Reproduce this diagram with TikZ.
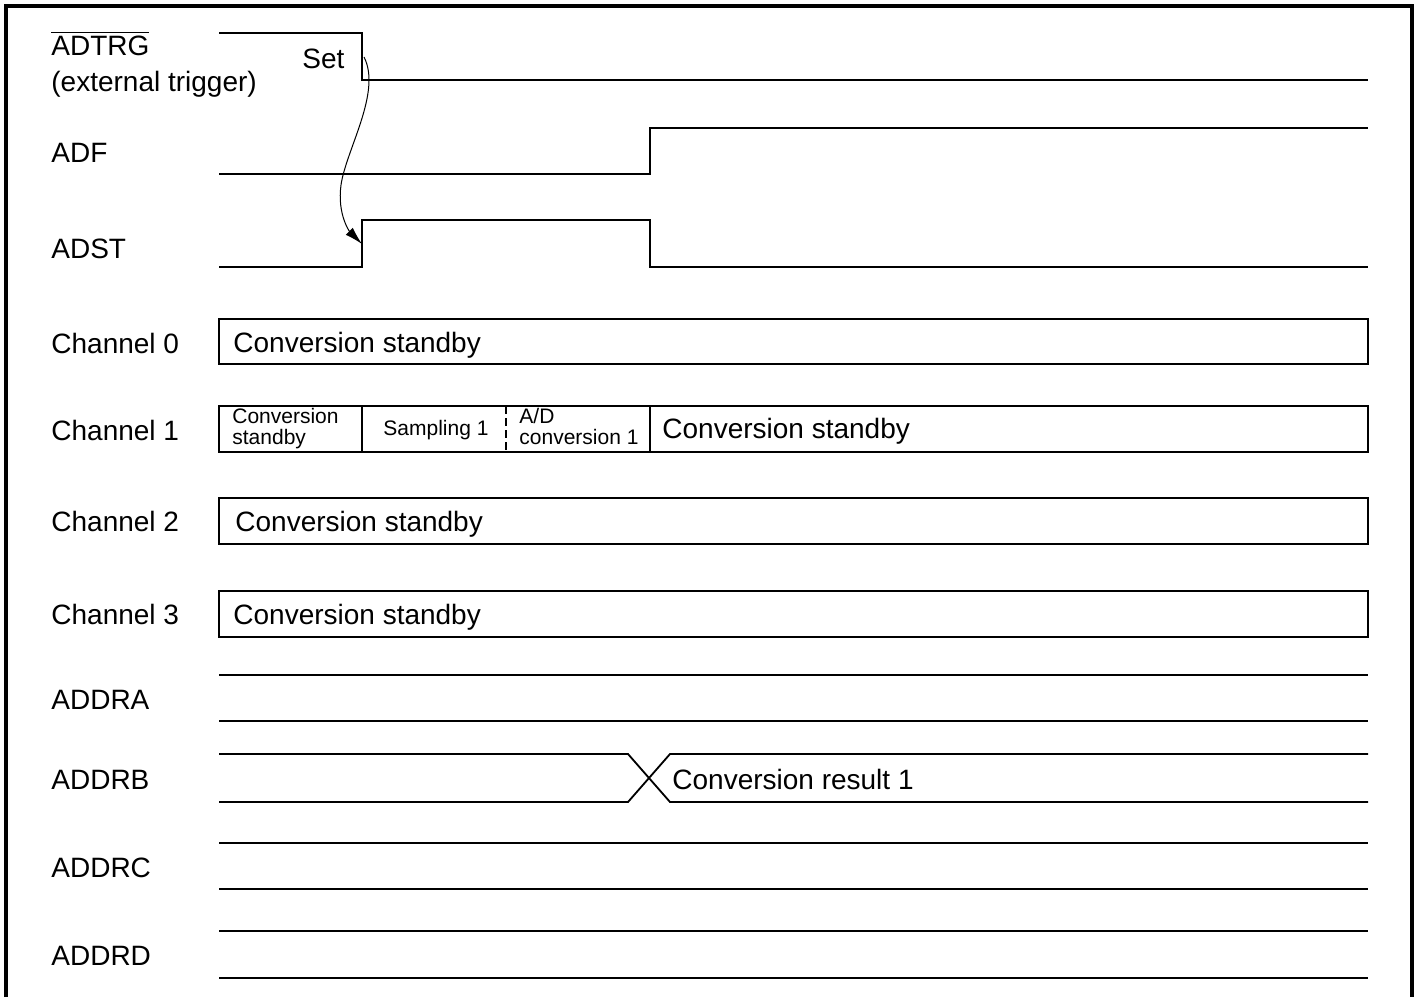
\documentclass[tikz,border=0pt]{standalone}
\usepackage{fontspec}
\setmainfont{Liberation Sans}
\usetikzlibrary{arrows.meta}
\begin{document}
\begin{tikzpicture}[x=0.5pt, y=-0.5pt,
    frame/.style={line width=2pt},
    wave/.style={line width=0.9pt, line join=miter},
    cell/.style={wave},
    cause/.style={line width=0.5pt, -{Latex[length=9pt,width=5pt]}},
    sig/.style={anchor=base west, inner sep=0pt, font=\fontsize{14}{16}\selectfont},
    big/.style={anchor=base west, inner sep=0pt, font=\fontsize{14}{16}\selectfont},
    small/.style={anchor=base west, inner sep=0pt, font=\fontsize{10.5}{12}\selectfont}]
  % Open frame: the bottom edge is cut off.
  \useasboundingbox (0,0) rectangle (1417,997);
  \draw[frame] (6,997) -- (6,6) -- (1412,6) -- (1412,997);
  % Signal names
  \node[sig] (adtrg) at (51,55) {$\overline{\mbox{ADTRG}}$};
  \node[sig] (ext) at (51,91) {(external trigger)};
  \node[sig] (adf) at (51,162) {ADF};
  \node[sig] (adst) at (51,258) {ADST};
  \node[sig] (ch0) at (51,353) {Channel 0};
  \node[sig] (ch1) at (51,440) {Channel 1};
  \node[sig] (ch2) at (51,531) {Channel 2};
  \node[sig] (ch3) at (51,624) {Channel 3};
  \node[sig] (ddra) at (51,709) {ADDRA};
  \node[sig] (ddrb) at (51,789) {ADDRB};
  \node[sig] (ddrc) at (51,877) {ADDRC};
  \node[sig] (ddrd) at (51,965) {ADDRD};
  % Control waveforms
  \draw[wave] (219,33) -- (362,33) -- (362,80) -- (1368,80);
  \draw[wave] (219,174) -- (650,174) -- (650,128) -- (1368,128);
  \draw[wave] (219,267) -- (362,267) -- (362,220) -- (650,220) -- (650,267) -- (1368,267);
  \node[big] (set) at (302,68) {Set};
  \coordinate (trig) at (364,57);
  \coordinate (start) at (362,244);
  \draw[cause] (trig) .. controls (382,92) and (346,150) .. (341,185)
    .. controls (337,215) and (350,232) .. (start);
  % Channel states
  \draw[cell] (219,319) rectangle (1368,364);
  \node[big] (s0) at (233,352) {Conversion standby};
  \draw[cell] (219,406) rectangle (1368,452);
  \draw[cell] (362,406) -- (362,452) (650,406) -- (650,452);
  \draw[cell, dash pattern=on 4pt off 2pt] (506,406) -- (506,452);
  \node[small] (s1a) at (232,423) {Conversion};
  \node[small] (s1b) at (232,444) {standby};
  \node[small] (s1c) at (383,435) {Sampling 1};
  \node[small] (s1d) at (519,423) {A/D};
  \node[small] (s1e) at (519,444) {conversion 1};
  \node[big] (s1f) at (662,438) {Conversion standby};
  \draw[cell] (219,498) rectangle (1368,544);
  \node[big] (s2) at (235,531) {Conversion standby};
  \draw[cell] (219,591) rectangle (1368,637);
  \node[big] (s3) at (233,624) {Conversion standby};
  % Data registers
  \draw[wave] (219,675) -- (1368,675) (219,721) -- (1368,721);
  \draw[wave] (219,754) -- (628,754) -- (670,802) -- (1368,802);
  \draw[wave] (219,802) -- (628,802) -- (670,754) -- (1368,754);
  \node[big] (rb) at (672,789) {Conversion result 1};
  \draw[wave] (219,843) -- (1368,843) (219,889) -- (1368,889);
  \draw[wave] (219,931) -- (1368,931) (219,978) -- (1368,978);
\end{tikzpicture}
\end{document}
